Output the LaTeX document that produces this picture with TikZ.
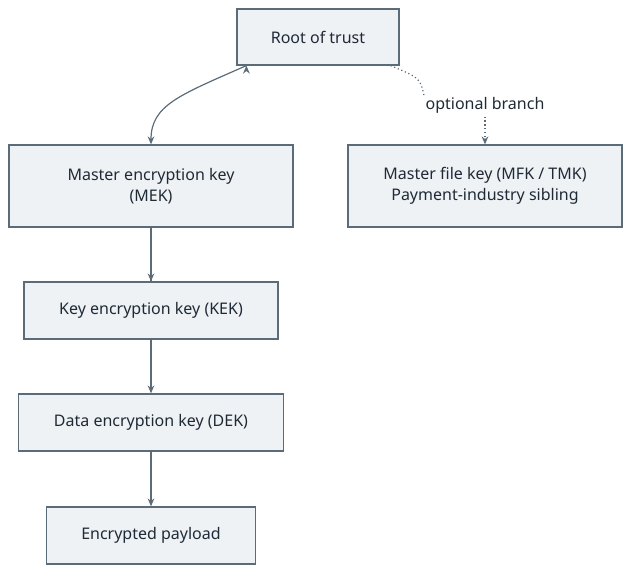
\documentclass[tikz,border=0pt]{standalone}
\usepackage{fontspec}
\setmainfont{Noto Sans}
\usetikzlibrary{arrows.meta}
\definecolor{boxfill}{HTML}{EEF2F5}
\definecolor{boxline}{HTML}{5C6B78}
\definecolor{txt}{HTML}{1F2A36}
\tikzset{
  keybox/.style={draw=boxline,fill=boxfill,line width=0.9pt,inner sep=0pt,align=center,text=txt,font=\fontsize{12}{16}\selectfont},
  flow/.style={draw=boxline,line width=0.9pt,-{Stealth[length=6pt,width=5pt]}},
}
\begin{document}
\begin{tikzpicture}[x=0.75pt,y=0.75pt,yscale=-1,xscale=1]
\useasboundingbox (0,0) rectangle (640,581);

%Root
\node[keybox,minimum width=121.5pt,minimum height=42pt] (root) at (318,37) {Root of trust};
%Left chain
\node[keybox,minimum width=213pt,minimum height=61.5pt] (mek) at (151,186) {Master encryption key\\(MEK)};
\node[keybox,minimum width=190.5pt,minimum height=42.75pt] (kek) at (151,310.5) {Key encryption key (KEK)};
\node[keybox,minimum width=198.75pt,minimum height=42.75pt] (dek) at (151,422.5) {Data encryption key (DEK)};
\node[keybox,minimum width=156.75pt,minimum height=42.75pt] (pay) at (151,535.5) {Encrypted payload};
%Right sibling
\node[keybox,minimum width=205.5pt,minimum height=61.5pt] (mfk) at (485,186) {Master file key (MFK / TMK)\\Payment-industry sibling};

%Label
\node[text=txt,font=\fontsize{12}{16}\selectfont,inner sep=1pt] (opt) at (485,105) {optional branch};

\draw[flow] (root.south west) ++(10,0) coordinate (r1);
\draw[flow] (r1) .. controls (180,95) and (151,105) .. (mek.north);
\draw[flow,-] (mek) -- (kek);
\draw[flow] (mek.south) -- (kek.north);
\draw[flow] (kek.south) -- (dek.north);
\draw[flow] (dek.south) -- (pay.north);
\draw[draw=boxline,line width=0.9pt,dotted] (root.south east) ++(-9,0) coordinate (r2);
\draw[draw=boxline,line width=0.9pt,dotted] (r2) .. controls (420,78) .. (opt.north west);
\draw[draw=boxline,line width=0.9pt,dotted,-{Stealth[length=6pt,width=5pt]}] (opt.south) ++(0,2) coordinate (o2) .. controls (485,125) .. (mfk.north);
\end{tikzpicture}
\end{document}
